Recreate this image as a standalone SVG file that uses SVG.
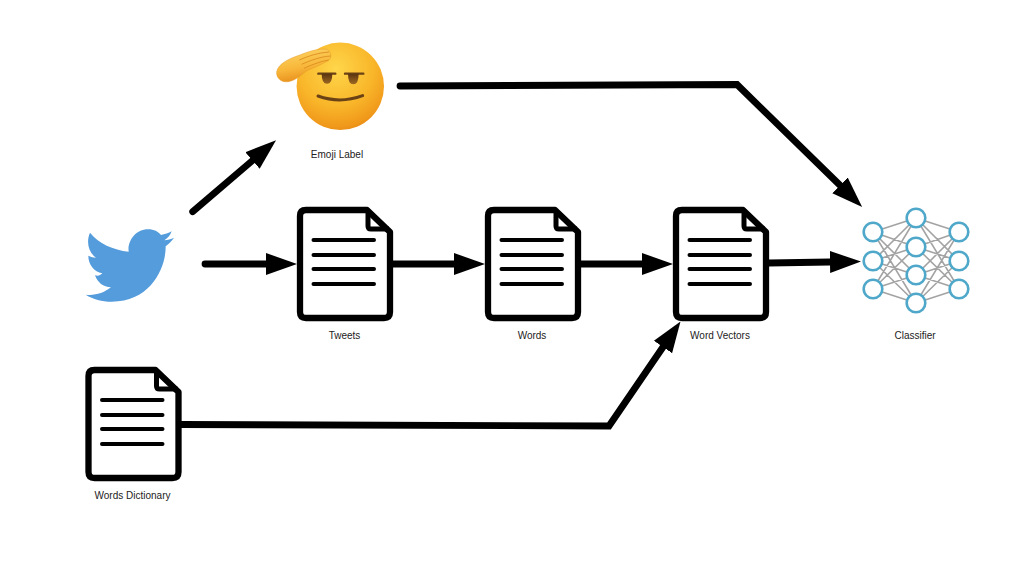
<svg xmlns="http://www.w3.org/2000/svg" xmlns:xlink="http://www.w3.org/1999/xlink" width="1024" height="566" viewBox="0 0 1024 566">
<style>
.lbl{font-family:"Liberation Sans",Arial,sans-serif;font-size:10px;fill:#222;text-anchor:middle}
.conn{fill:none;stroke:#000;stroke-width:6.800;stroke-linejoin:miter;stroke-linecap:round}
.conn-a{marker-end:url(#arrow)}
.docb{fill:#fff;stroke:#000;stroke-width:6.300;stroke-linejoin:round}
.docl{fill:none;stroke:#000;stroke-width:4;stroke-linecap:round}
.e{stroke:#a3a3a3;stroke-width:1.6}
.n{fill:#fff;stroke:#4fa8c9;stroke-width:2.600}
</style>
<defs>
<marker id="arrow" markerUnits="userSpaceOnUse" markerWidth="32" markerHeight="26" refX="0" refY="13" orient="auto"><path d="M0,2 L31,13 L0,24 Z" fill="#000"/></marker>
<radialGradient id="face" cx="0.45" cy="0.3" r="0.78"><stop offset="0" stop-color="#ffd64a"/><stop offset="0.55" stop-color="#f9b62a"/><stop offset="0.85" stop-color="#f0981a"/><stop offset="1" stop-color="#e07f10"/></radialGradient>
<linearGradient id="hand" x1="0.1" y1="0" x2="0.4" y2="1"><stop offset="0" stop-color="#fdd666"/><stop offset="0.6" stop-color="#f8b73a"/><stop offset="1" stop-color="#e88e1c"/></linearGradient>
<linearGradient id="brow" x1="0" y1="0" x2="0" y2="1"><stop offset="0" stop-color="#5a3410"/><stop offset="1" stop-color="#a06a22"/></linearGradient>
<g id="doc">
<path class="docb" d="M306,210 H367 L390,232 V312 Q390,318 384,318 H306 Q300,318 300,312 V216 Q300,210 306,210 Z"/>
<path d="M368,211 V226 Q368,229 371,229 H389" fill="none" stroke="#000" stroke-width="5" stroke-linejoin="round"/>
<path class="docl" d="M313.500,240 H374 M313.500,255 H374 M313.500,269 H374 M313.500,284 H374"/>
</g>
</defs>
<rect width="1024" height="566" fill="#fff"/>
<g id="connectors">
<path class="conn conn-a" d="M192.700,211.700 L252.500,160.500"/>
<path class="conn conn-a" d="M400,86 L737,84.500 L840,185.300"/>
<path class="conn conn-a" d="M205,264 H266"/>
<path class="conn conn-a" d="M393,264 H454"/>
<path class="conn conn-a" d="M581,264 H642"/>
<path class="conn conn-a" d="M769,263 L830,262"/>
<path class="conn conn-a" d="M181,424.500 L609,426 L663,347"/>
</g>
<g id="emoji">
<circle cx="340.300" cy="86.300" r="43.700" fill="url(#face)"/>
<g transform="translate(260,30) scale(.3333)">
<path d="M175,131 H226 M255,131 H310" stroke="#6a4215" stroke-width="7" fill="none" stroke-linecap="round"/>
<path d="M185,131 Q185,161 201,161 Q217,161 217,131 Z M264,131 Q264,163 280,163 Q296,163 296,131 Z" fill="url(#brow)"/>
<path d="M174,198 Q240,222 308,197" stroke="#6a4215" stroke-width="9" fill="none" stroke-linecap="round"/>
<path d="M50,125 C55,100 90,85 120,75 C150,62 190,52 205,60 C215,70 215,85 205,92 C190,100 170,110 150,118 C130,125 115,150 85,155 C65,158 48,145 50,125 Z" fill="url(#hand)" stroke="#e59a26" stroke-width="1.500"/>
<path d="M118,90 C145,78 175,68 207,66 M125,103 C150,92 180,80 212,78 M132,115 C150,107 175,96 206,90" stroke="#d98a1e" stroke-width="2.500" fill="none"/>
</g>
<text class="lbl" x="337" y="158">Emoji Label</text>
</g>
<g id="twitter">
<path transform="translate(70,200) scale(.3333)" fill="#549cdc" d="M60,98 C85,130 130,150 176,155 C172,125 195,88 235,88 C252,88 265,95 273,105 C285,103 296,99 305,94 C301,106 293,115 283,121 C293,120 303,117 312,113 C305,123 296,132 287,139 C288,200 245,305 125,305 C95,305 70,298 47,284 C75,287 100,280 123,262 C100,262 82,247 75,226 C83,228 90,228 97,220 C72,215 55,193 55,167 C62,171 70,173 78,173 C55,158 48,125 60,98 Z"/>
</g>
<g id="tweets"><use xlink:href="#doc" href="#doc"/><text class="lbl" x="344.500" y="339">Tweets</text></g>
<g id="words"><use xlink:href="#doc" href="#doc" x="188"/><text class="lbl" x="532" y="339">Words</text></g>
<g id="word-vectors"><use xlink:href="#doc" href="#doc" x="376"/><text class="lbl" x="720" y="339">Word Vectors</text></g>
<g id="words-dictionary"><use xlink:href="#doc" href="#doc" x="-211.500" y="160"/><text class="lbl" x="132.500" y="499">Words Dictionary</text></g>
<g id="classifier">
<path class="e" d="M873,232 L916,218 M873,232 L916,247 M873,232 L916,275 M873,232 L916,303 M873,261 L916,218 M873,261 L916,247 M873,261 L916,275 M873,261 L916,303 M873,289 L916,218 M873,289 L916,247 M873,289 L916,275 M873,289 L916,303 M959,232 L916,218 M959,232 L916,247 M959,232 L916,275 M959,232 L916,303 M959,261 L916,218 M959,261 L916,247 M959,261 L916,275 M959,261 L916,303 M959,289 L916,218 M959,289 L916,247 M959,289 L916,275 M959,289 L916,303"/>
<circle class="n" cx="873" cy="232" r="9.300"/><circle class="n" cx="873" cy="261" r="9.300"/><circle class="n" cx="873" cy="289" r="9.300"/>
<circle class="n" cx="916" cy="218" r="9.300"/><circle class="n" cx="916" cy="247" r="9.300"/><circle class="n" cx="916" cy="275" r="9.300"/><circle class="n" cx="916" cy="303" r="9.300"/>
<circle class="n" cx="959" cy="232" r="9.300"/><circle class="n" cx="959" cy="261" r="9.300"/><circle class="n" cx="959" cy="289" r="9.300"/>
<text class="lbl" x="915" y="339">Classifier</text>
</g>
</svg>
